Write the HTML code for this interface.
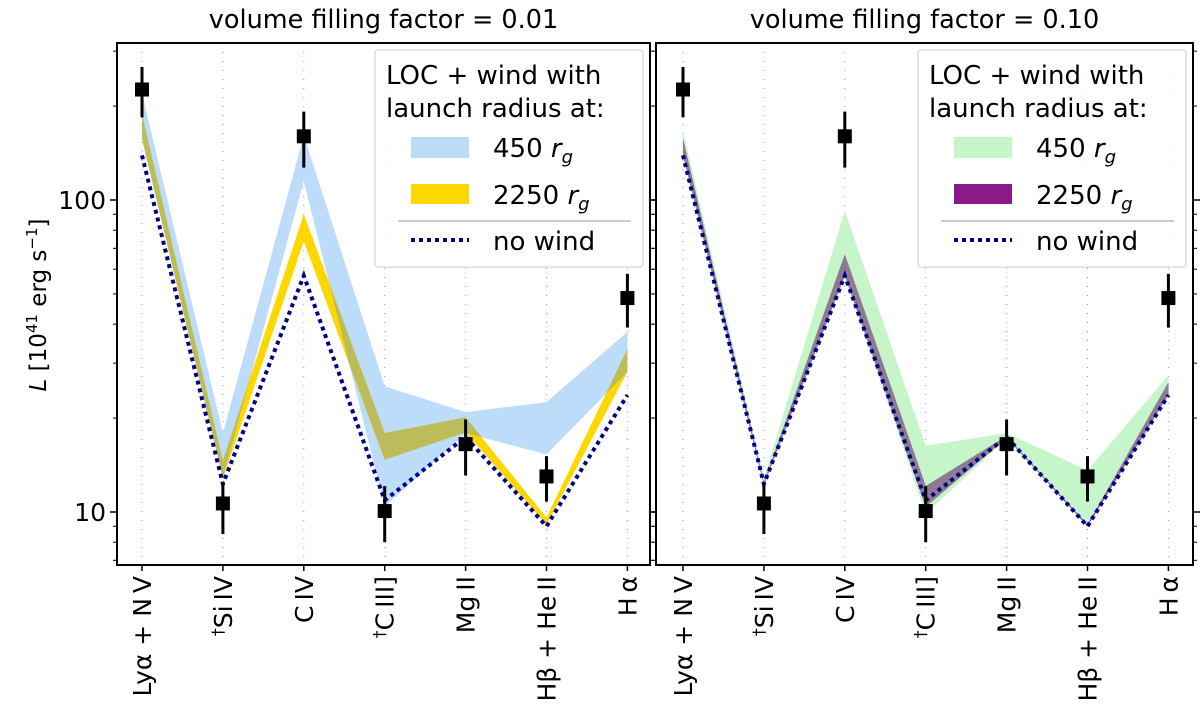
<!DOCTYPE html>
<html><head><meta charset="utf-8"><style>
body{margin:0;background:#fff;}
svg{font-family:"DejaVu Sans","Liberation Sans",sans-serif;}
</style></head><body>
<svg id="chart" width="1200" height="716" xmlns="http://www.w3.org/2000/svg"></svg>
<script>
const categories=["Ly\u03b1 + N\u2009V","\u2020Si\u2009IV","C\u2009IV","\u2020C\u2009III]","Mg\u2009II","H\u03b2 + He\u2009II","H\u2009\u03b1"];
const obsVal=[226,10.65,160,10.07,16.5,13.0,48.5];
const obsHi=[267,12.4,192,12.1,19.8,15.1,58];
const obsLo=[184,8.5,127,8.0,13.1,10.8,39];
const noWind=[139,12.3,57.2,10.9,17.4,9.0,23.7];
const L450Hi=[220,17.9,161,25.3,20.9,22.5,37.8];
const L450Lo=[157,12.9,115,10.4,17.9,15.3,28.1];
const L2250Hi=[188,14.6,90,17.9,20.1,9.6,33.3];
const L2250Lo=[157,12.8,73.6,14.7,18.0,9.1,28.1];
const R450Hi=[167,12.8,92.4,16.3,17.9,13.6,27.4];
const R450Lo=[139,12.2,57,9.85,17.2,9.1,23.7];
const R2250Hi=[157,12.4,66.9,12.1,17.5,9.1,26.0];
const R2250Lo=[139,12.2,57.2,10.4,17.3,9.0,23.7];
const yTicks=[10,100];
const yTickLabels=["10","100"];
const minorTicks=[7,8,9,20,30,40,50,60,70,80,90,200,300];

const NS="http://www.w3.org/2000/svg";
const svg=document.getElementById('chart');
function mk(tag,attrs,parent){const e=document.createElementNS(NS,tag);for(const k in attrs)e.setAttribute(k,attrs[k]);(parent||svg).appendChild(e);return e;}
function yS(v){return 512-312*Math.log10(v/10);}
const TOP=43,BOT=565;
const defs=mk('defs',{});
const panels=[
 {x0:117,x1:650,cx0:142,title:"volume filling factor = 0.01",c450:"#bcdcfa",c2250:"#ffd700",ov:"#bcbc5a",hi450:L450Hi,lo450:L450Lo,hi2250:L2250Hi,lo2250:L2250Lo,name:"left"},
 {x0:656,x1:1193,cx0:683,title:"volume filling factor = 0.10",c450:"#c5f5c8",c2250:"#8b1a89",ov:"#8e7b8f",hi450:R450Hi,lo450:R450Lo,hi2250:R2250Hi,lo2250:R2250Lo,name:"right"}
];
const step=80.9;
panels.forEach((p,pi)=>{
 const xS=i=>p.cx0+i*step;
 const g=mk('g',{});
 
 
 categories.forEach((c,i)=>{const l=mk('line',{x1:xS(i),x2:xS(i),y1:TOP,y2:BOT,stroke:'#999','stroke-width':1,'stroke-dasharray':'1,8'},g);
  });
 function pts(hi,lo){
  let a=hi.map((v,i)=>xS(i)+','+yS(v));
  for(let i=lo.length-1;i>=0;i--)a.push(xS(i)+','+yS(lo[i]));
  return a.join(' ');}
 const b1=mk('polygon',{points:pts(p.hi450,p.lo450),fill:p.c450},g);
 
 const b2=mk('polygon',{points:pts(p.hi2250,p.lo2250),fill:p.c2250},g);
 
 const cp=mk('clipPath',{id:'clip'+pi},defs);
 mk('polygon',{points:pts(p.hi2250,p.lo2250)},cp);
 const b3=mk('polygon',{points:pts(p.hi450,p.lo450),fill:p.ov,'clip-path':`url(#clip${pi})`},g);
 
 const nw=mk('polyline',{points:noWind.map((v,i)=>xS(i)+','+yS(v)).join(' '),fill:'none',stroke:'#00008b','stroke-width':4,'stroke-dasharray':'4,4'},g);
 
 obsVal.forEach((v,i)=>{
  const eb=mk('line',{x1:xS(i),x2:xS(i),y1:yS(obsHi[i]),y2:yS(obsLo[i]),stroke:'#000','stroke-width':3},g);
  
  const m=mk('rect',{x:xS(i)-7,y:yS(v)-7,width:14,height:14,fill:'#000'},g);
  
 });
 const fr=mk('rect',{x:p.x0,y:TOP,width:p.x1-p.x0,height:BOT-TOP,fill:'none',stroke:'#000','stroke-width':2},g);
 
 yTicks.forEach((v,k)=>{
  [p.x0,p.x1].forEach((x,s)=>{mk('line',{x1:x,x2:s?x+7:x-7,y1:yS(v),y2:yS(v),stroke:'#000','stroke-width':1.5},g);});
  if(pi===0){const t=mk('text',{x:p.x0-11,y:yS(v)+9,'text-anchor':'end','font-size':25},g);t.textContent=yTickLabels[k];
   }
 });
 minorTicks.forEach(v=>{[p.x0,p.x1].forEach((x,s)=>{mk('line',{x1:x,x2:s?x+4:x-4,y1:yS(v),y2:yS(v),stroke:'#000','stroke-width':1},g);});});
 categories.forEach((c,i)=>{
  mk('line',{x1:xS(i),x2:xS(i),y1:BOT,y2:BOT+6,stroke:'#000','stroke-width':1.5},g);
  const t=mk('text',{x:0,y:0,'text-anchor':'end','font-size':25,transform:`translate(${xS(i)+9},${BOT+11}) rotate(-90)`},g);
  if(c[0]==='\u2020'){t.innerHTML='<tspan font-size="16" dy="-9">\u2020</tspan><tspan dy="9">'+c.slice(1)+'</tspan>';}
  else t.textContent=c;
  
 });
 const tt=mk('text',{x:(p.x0+p.x1)/2,y:28,'text-anchor':'middle','font-size':25.5},g);
 tt.textContent=p.title;
 const lx=p.x1-275;
 const lg=mk('g',{},g);
 mk('rect',{x:lx,y:50,width:268,height:217,fill:'#fff','fill-opacity':0.85,stroke:'#ddd','stroke-width':1.5,rx:3},lg);
 const t1=mk('text',{x:lx+11,y:84,'font-size':26},lg);t1.textContent='LOC + wind with';
 const t2=mk('text',{x:lx+11,y:117,'font-size':26},lg);t2.textContent='launch radius at:';
 mk('rect',{x:lx+36,y:137,width:58,height:21,fill:p.c450},lg);
 mk('rect',{x:lx+36,y:184,width:58,height:20,fill:p.c2250},lg);
 const t3=mk('text',{x:lx+118,y:157,'font-size':26},lg);t3.innerHTML='450 <tspan font-style="italic">r</tspan><tspan font-style="italic" font-size="18" dy="6">g</tspan>';
 const t4=mk('text',{x:lx+118,y:204,'font-size':26},lg);t4.innerHTML='2250 <tspan font-style="italic">r</tspan><tspan font-style="italic" font-size="18" dy="6">g</tspan>';
 mk('line',{x1:lx+23,x2:lx+256,y1:221,y2:221,stroke:'#ccc','stroke-width':2},lg);
 mk('line',{x1:lx+36,x2:lx+94,y1:240,y2:240,stroke:'#00008b','stroke-width':4,'stroke-dasharray':'4,4'},lg);
 const t5=mk('text',{x:lx+118,y:250,'font-size':26},lg);t5.textContent='no wind';
});
const yl=mk('text',{x:0,y:0,'text-anchor':'middle','font-size':23,transform:'translate(46,305) rotate(-90)'});
yl.innerHTML='<tspan font-style="italic">L</tspan> [10<tspan font-size="15" dy="-9">41</tspan><tspan dy="9"> erg s</tspan><tspan font-size="15" dy="-9">\u22121</tspan><tspan dy="9">]</tspan>';


</script>
</body></html>
